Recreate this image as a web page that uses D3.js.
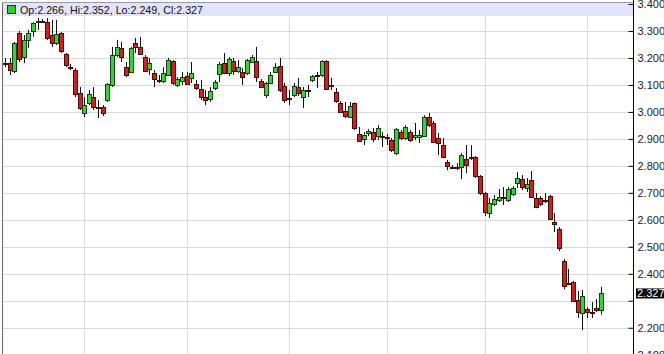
<!DOCTYPE html>
<html>
<head>
<meta charset="utf-8">
<script src="https://cdn.jsdelivr.net/npm/d3@7"></script>
<style>
body { margin: 0; background: #fff; }
svg { display: block; font-family: "Liberation Sans", Arial, sans-serif; }
</style>
</head>
<body>
<script>
(function () {

var opens = [3.183, 3.181, 3.152, 3.292, 3.203, 3.267, 3.300, 3.335, 3.337, 3.333,
  3.285, 3.255, 3.292, 3.215, 3.168, 3.155, 3.070, 2.996, 3.033, 3.055,
  3.020, 3.018, 3.044, 3.100, 3.211, 3.237, 3.166, 3.148, 3.255, 3.241,
  3.203, 3.159, 3.144, 3.118, 3.114, 3.137, 3.189, 3.100, 3.114, 3.133,
  3.126, 3.103, 3.085, 3.055, 3.048, 3.089, 3.140, 3.181, 3.144, 3.189,
  3.152, 3.148, 3.144, 3.185, 3.189, 3.114, 3.063, 3.107, 3.148, 3.170,
  3.096, 3.050, 3.063, 3.092, 3.055, 3.081, 3.118, 3.137, 3.137, 3.189,
  3.100, 3.074, 3.033, 3.003, 2.981, 3.033, 2.918, 2.899, 2.922, 2.925,
  2.910, 2.911, 2.908, 2.896, 2.848, 2.925, 2.903, 2.925, 2.907, 2.908,
  2.910, 2.981, 2.959, 2.903, 2.877, 2.814, 2.797, 2.797, 2.796, 2.825,
  2.834, 2.833, 2.762, 2.699, 2.625, 2.658, 2.673, 2.685, 2.673, 2.695,
  2.736, 2.751, 2.718, 2.747, 2.681, 2.681, 2.674, 2.688, 2.592, 2.566,
  2.447, 2.366, 2.369, 2.302, 2.254, 2.269, 2.259, 2.273, 2.266]

var highs = [3.200, 3.200, 3.259, 3.300, 3.285, 3.304, 3.333, 3.348, 3.344, 3.348,
  3.341, 3.341, 3.296, 3.218, 3.178, 3.163, 3.092, 3.055, 3.081, 3.092,
  3.044, 3.025, 3.107, 3.241, 3.267, 3.259, 3.185, 3.241, 3.274, 3.278,
  3.211, 3.200, 3.155, 3.137, 3.166, 3.200, 3.192, 3.129, 3.148, 3.148,
  3.185, 3.118, 3.118, 3.081, 3.092, 3.118, 3.185, 3.218, 3.203, 3.200,
  3.192, 3.163, 3.196, 3.211, 3.241, 3.122, 3.111, 3.148, 3.181, 3.200,
  3.107, 3.081, 3.107, 3.126, 3.092, 3.100, 3.137, 3.148, 3.192, 3.192,
  3.126, 3.089, 3.040, 3.037, 3.037, 3.035, 2.944, 2.925, 2.936, 2.940,
  2.951, 2.925, 2.918, 2.903, 2.940, 2.933, 2.951, 2.933, 2.959, 2.933,
  2.988, 2.996, 2.966, 2.922, 2.903, 2.822, 2.803, 2.810, 2.848, 2.877,
  2.877, 2.836, 2.766, 2.703, 2.681, 2.692, 2.714, 2.721, 2.721, 2.725,
  2.777, 2.766, 2.755, 2.781, 2.699, 2.688, 2.699, 2.692, 2.625, 2.573,
  2.455, 2.418, 2.373, 2.336, 2.340, 2.276, 2.295, 2.306, 2.352]

var lows = [3.166, 3.137, 3.144, 3.185, 3.181, 3.237, 3.278, 3.304, 3.330, 3.267,
  3.241, 3.248, 3.218, 3.166, 3.155, 3.055, 3.007, 2.981, 3.025, 3.007,
  2.977, 2.985, 3.037, 3.092, 3.203, 3.185, 3.129, 3.144, 3.218, 3.211,
  3.148, 3.137, 3.092, 3.107, 3.107, 3.133, 3.100, 3.092, 3.100, 3.100,
  3.107, 3.081, 3.044, 3.025, 3.037, 3.081, 3.111, 3.140, 3.133, 3.137,
  3.144, 3.100, 3.137, 3.181, 3.111, 3.089, 3.052, 3.103, 3.144, 3.074,
  3.033, 3.025, 3.055, 3.059, 3.015, 3.055, 3.111, 3.089, 3.129, 3.081,
  3.081, 3.033, 2.996, 2.977, 2.977, 2.933, 2.888, 2.877, 2.910, 2.888,
  2.896, 2.870, 2.877, 2.851, 2.840, 2.896, 2.896, 2.888, 2.896, 2.885,
  2.907, 2.944, 2.885, 2.840, 2.829, 2.784, 2.788, 2.784, 2.751, 2.773,
  2.822, 2.755, 2.692, 2.614, 2.607, 2.651, 2.666, 2.655, 2.666, 2.688,
  2.718, 2.710, 2.703, 2.681, 2.643, 2.651, 2.662, 2.599, 2.555, 2.484,
  2.343, 2.358, 2.295, 2.236, 2.191, 2.236, 2.236, 2.258, 2.249]

var closes = [3.181, 3.155, 3.255, 3.196, 3.267, 3.292, 3.330, 3.337, 3.335, 3.274,
  3.255, 3.289, 3.226, 3.174, 3.166, 3.066, 3.015, 3.025, 3.066, 3.018,
  3.018, 2.996, 3.103, 3.211, 3.241, 3.203, 3.137, 3.237, 3.241, 3.215,
  3.152, 3.181, 3.122, 3.116, 3.144, 3.192, 3.107, 3.122, 3.129, 3.103,
  3.144, 3.089, 3.055, 3.044, 3.077, 3.111, 3.178, 3.144, 3.196, 3.152,
  3.166, 3.129, 3.192, 3.203, 3.129, 3.092, 3.107, 3.137, 3.166, 3.081,
  3.044, 3.048, 3.096, 3.070, 3.081, 3.079, 3.133, 3.135, 3.189, 3.085,
  3.098, 3.040, 3.000, 2.985, 3.022, 2.940, 2.892, 2.914, 2.929, 2.899,
  2.940, 2.910, 2.907, 2.859, 2.936, 2.903, 2.944, 2.896, 2.914, 2.914,
  2.981, 2.951, 2.888, 2.885, 2.833, 2.799, 2.796, 2.796, 2.840, 2.803,
  2.833, 2.762, 2.699, 2.629, 2.662, 2.677, 2.684, 2.684, 2.714, 2.718,
  2.755, 2.721, 2.733, 2.684, 2.647, 2.658, 2.673, 2.603, 2.584, 2.495,
  2.354, 2.365, 2.299, 2.258, 2.317, 2.258, 2.258, 2.265, 2.327]

// price ticks on the right axis, and the bars where a new month starts
var priceTicks = [2.1, 2.2, 2.3, 2.4, 2.5, 2.6, 2.7, 2.8, 2.9, 3.0, 3.1, 3.2, 3.3, 3.4]
var monthStarts = [17, 39, 61, 82, 103, 125]

var width = 664,
height = 354,
plotLeft = 2,
plotRight = 633,
plotTop = 2;

var bars = opens.map(function(o, i) {
  return { i: i, open: o, high: highs[i], low: lows[i], close: closes[i] }
})
var last = bars[bars.length - 1]
var fmt = d3.format(".3f")

var svg = d3.select("body")
.append("svg")
.attr("width", width)
.attr("height", height)

var xScale = d3.scaleLinear().domain([0, bars.length - 1]).range([5, 601])
var yScale = d3.scaleLinear().domain([2.1, 3.4]).range([354.7, 4])

svg.append("defs").append("clipPath")
.attr("id", "plot")
.append("rect")
.attr("x", plotLeft)
.attr("y", plotTop)
.attr("width", plotRight - plotLeft)
.attr("height", height - plotTop)

var grid = svg.append("g").attr("stroke", "#d9d9d9").attr("stroke-width", 1)

grid.selectAll(".h")
.data(priceTicks)
.enter().append("line")
.attr("x1", plotLeft)
.attr("x2", plotRight)
.attr("y1", function(d) { return Math.round(yScale(d)) + 0.5 })
.attr("y2", function(d) { return Math.round(yScale(d)) + 0.5 })

grid.selectAll(".v")
.data(monthStarts)
.enter().append("line")
.attr("x1", function(d) { return Math.round(xScale(d)) + 0.5 })
.attr("x2", function(d) { return Math.round(xScale(d)) + 0.5 })
.attr("y1", plotTop)
.attr("y2", height)

// header strip
svg.append("rect")
.attr("x", plotLeft + 1)
.attr("y", 3)
.attr("width", plotRight - plotLeft - 1)
.attr("height", 13)
.attr("fill", "#e3e3f9")

svg.append("rect")
.attr("x", 7.5)
.attr("y", 5.5)
.attr("width", 8)
.attr("height", 8)
.attr("fill", "#2fd12f")
.attr("stroke", "#1b3d1b")

svg.append("text")
.attr("x", 20)
.attr("y", 14)
.attr("font-size", "10.7px")
.attr("fill", "#111")
.text("Op:" + fmt(last.open) + ", Hi:" + fmt(last.high) + ", Lo:" + fmt(last.low) + ", Cl:" + fmt(last.close))

var candles = svg.append("g")
.attr("clip-path", "url(#plot)")
.selectAll("g")
.data(bars)
.enter().append("g")

function leftEdge(d) {
  return Math.round(xScale(d.i) - 2)
}

candles.append("line")
.attr("x1", function(d) { return leftEdge(d) + 2.5 })
.attr("x2", function(d) { return leftEdge(d) + 2.5 })
.attr("y1", function(d) { return yScale(d.high) })
.attr("y2", function(d) { return yScale(d.low) })
.attr("stroke", "#111")

candles.append("rect")
.attr("x", function(d) { return leftEdge(d) + 0.5 })
.attr("width", 4)
.attr("y", function(d) { return Math.round(yScale(Math.max(d.open, d.close))) + 0.5 })
.attr("height", function(d) {
  return Math.max(1, Math.round(yScale(Math.min(d.open, d.close))) - Math.round(yScale(Math.max(d.open, d.close))))
})
.attr("fill", function(d) { return d.close >= d.open ? "#35d435" : "#cf1f1f" })
.attr("stroke", function(d) { return d.close >= d.open ? "#17401a" : "#4d0a0a" })

// frame
svg.append("line")
.attr("x1", plotLeft + 0.5).attr("x2", plotLeft + 0.5)
.attr("y1", plotTop).attr("y2", height)
.attr("stroke", "#6a6a6a")

svg.append("line")
.attr("x1", plotLeft).attr("x2", plotRight)
.attr("y1", plotTop + 0.5).attr("y2", plotTop + 0.5)
.attr("stroke", "#9a9aae")

var axis = d3.axisRight(yScale)
.tickValues(priceTicks)
.tickSize(-5)
.tickPadding(4)
.tickFormat(fmt)

var axisG = svg.append("g")
.attr("transform", "translate(" + (plotRight + 0.5) + " 0)")
.call(axis)

axisG.select(".domain").remove()
axisG.selectAll("line").attr("stroke", "#000")
axisG.selectAll("text")
.attr("font-size", "11px")
.attr("font-family", "Liberation Sans, Arial, sans-serif")
.attr("fill", "#222")
.attr("opacity", function(d) { return Math.abs(yScale(d) - yScale(last.close)) < 10 ? 0 : 1 })

svg.append("line")
.attr("x1", plotRight + 0.5).attr("x2", plotRight + 0.5)
.attr("y1", 0).attr("y2", height)
.attr("stroke", "#000")

// last price marker
svg.append("rect")
.attr("x", plotRight + 3)
.attr("y", yScale(last.close) - 5)
.attr("width", width - plotRight - 3)
.attr("height", 10)
.attr("fill", "#000")

svg.append("text")
.attr("x", plotRight + 4)
.attr("y", yScale(last.close))
.attr("dy", "0.36em")
.attr("font-size", "11px")
.attr("fill", "#fff")
.text(fmt(last.close))

}())
</script>
</body>
</html>
